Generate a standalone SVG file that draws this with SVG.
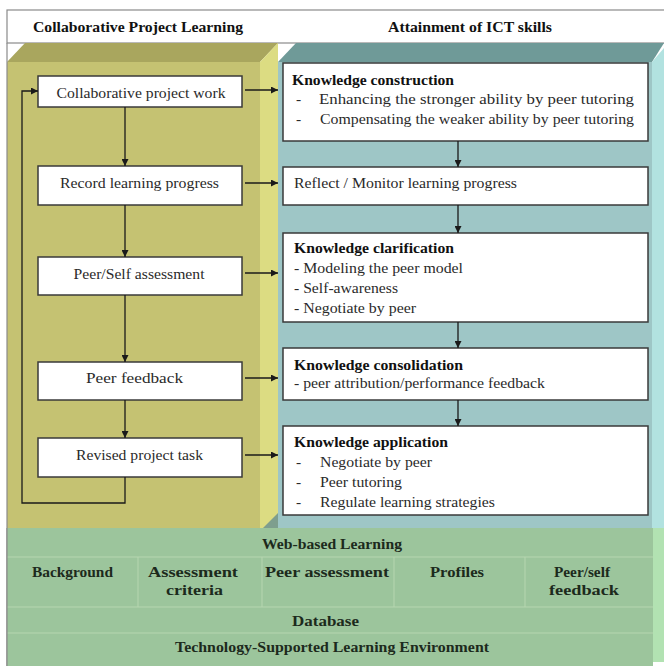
<svg xmlns="http://www.w3.org/2000/svg" width="664" height="666" viewBox="0 0 664 666" font-family="'Liberation Serif', 'DejaVu Serif', serif">
<defs>
<style>
text{font-family:'Liberation Serif','Times New Roman',serif}
.lt{font-size:15.5px;text-anchor:middle;fill:#2a2a2a}
.rt{font-size:15.5px;fill:#2a2a2a}
.rh{font-size:15.5px;font-weight:bold;fill:#111}
.hd{font-size:14.5px;font-weight:bold;fill:#111}
.gt{font-size:14.5px;font-weight:bold;fill:#1c2a1c;text-anchor:middle}
.box{fill:#fff;stroke:#3a3a3a;stroke-width:1.5}
.ln{fill:none;stroke:#1a1a1a;stroke-width:1.3}
.sep{stroke:#b6d6b0;stroke-width:1}
</style>
<marker id="ah" viewBox="0 0 10 10" refX="10" refY="5" markerWidth="7" markerHeight="7" markerUnits="userSpaceOnUse" orient="auto">
<path d="M0,0 L10,5 L0,10 z" fill="#1a1a1a"/>
</marker>
</defs>
<rect x="0" y="0" width="664" height="666" fill="#fff"/>
<g id="header">
<rect x="7" y="10" width="660" height="33" fill="#fff" stroke="#8a8a8a" stroke-width="1.2"/>
<text class="hd" x="33" y="32" textLength="210" lengthAdjust="spacingAndGlyphs">Collaborative Project Learning</text>
<text class="hd" x="388" y="32" textLength="164" lengthAdjust="spacingAndGlyphs">Attainment of ICT skills</text>
</g>
<g id="left-block">
<polygon points="7,62 25,43 278,43 260,62" fill="#a9a65e"/>
<polygon points="260,62 278,43 278,528 260,528" fill="#dcdc82"/>
<rect x="7" y="62" width="253" height="466" fill="#c5c272"/>
<line x1="7" y1="43" x2="7" y2="666" stroke="#8a8a8a" stroke-width="1.2"/>
</g>
<g id="right-block">
<polygon points="278,62 296,43 664,43 652,62" fill="#6f9a98"/>
<polygon points="652,62 664,48 664,528 652,528" fill="#b2e2e0"/>
<rect x="278" y="62" width="374" height="466" fill="#9ec6c6"/>
<polygon points="263,528 278,513 278,528" fill="#7e9e8e"/>
</g>
<g id="platform">
<rect x="7" y="528" width="646" height="138" fill="#9cc59c"/>
<rect x="653" y="528" width="11" height="134" fill="#b2e2b2"/>
<line class="sep" x1="7" y1="557" x2="653" y2="557"/>
<line class="sep" x1="7" y1="607" x2="653" y2="607"/>
<line class="sep" x1="7" y1="633" x2="653" y2="633"/>
<line class="sep" x1="138" y1="557" x2="138" y2="607"/>
<line class="sep" x1="262" y1="557" x2="262" y2="607"/>
<line class="sep" x1="394" y1="557" x2="394" y2="607"/>
<line class="sep" x1="525" y1="557" x2="525" y2="607"/>
<line x1="7" y1="528" x2="7" y2="666" stroke="#8a8a8a" stroke-width="1.2"/>
<text class="gt" x="332" y="549" textLength="140" lengthAdjust="spacingAndGlyphs">Web-based Learning</text>
<text class="gt" x="72.5" y="577" textLength="81" lengthAdjust="spacingAndGlyphs">Background</text>
<text class="gt" x="193" y="577" textLength="90" lengthAdjust="spacingAndGlyphs">Assessment</text>
<text class="gt" x="194.5" y="595" textLength="57" lengthAdjust="spacingAndGlyphs">criteria</text>
<text class="gt" x="327" y="577" textLength="124" lengthAdjust="spacingAndGlyphs">Peer assessment</text>
<text class="gt" x="457" y="577" textLength="54" lengthAdjust="spacingAndGlyphs">Profiles</text>
<text class="gt" x="582" y="577" textLength="56" lengthAdjust="spacingAndGlyphs">Peer/self</text>
<text class="gt" x="584" y="595" textLength="70" lengthAdjust="spacingAndGlyphs">feedback</text>
<text class="gt" x="325.5" y="626" textLength="67" lengthAdjust="spacingAndGlyphs">Database</text>
<text class="gt" x="332" y="652" textLength="314" lengthAdjust="spacingAndGlyphs">Technology-Supported Learning Environment</text>
</g>
<g id="n-collab"><rect class="box" x="38" y="76" width="204" height="31"/><text class="lt" x="141" y="98" textLength="169" lengthAdjust="spacingAndGlyphs">Collaborative project work</text></g>
<g id="n-record"><rect class="box" x="38" y="166" width="204" height="39"/><text class="lt" x="139.5" y="188" textLength="159" lengthAdjust="spacingAndGlyphs">Record learning progress</text></g>
<g id="n-assess"><rect class="box" x="38" y="257" width="204" height="38"/><text class="lt" x="139" y="279" textLength="131" lengthAdjust="spacingAndGlyphs">Peer/Self assessment</text></g>
<g id="n-feedback"><rect class="box" x="38" y="362" width="204" height="38"/><text class="lt" x="134.5" y="383" textLength="97" lengthAdjust="spacingAndGlyphs">Peer feedback</text></g>
<g id="n-revised"><rect class="box" x="38" y="438" width="204" height="39"/><text class="lt" x="139.5" y="460" textLength="127" lengthAdjust="spacingAndGlyphs">Revised project task</text></g>
<g id="k-construction"><rect class="box" x="283" y="63" width="365" height="78"/>
<text class="rh" x="292" y="85" textLength="162" lengthAdjust="spacingAndGlyphs">Knowledge construction</text>
<text class="rt" x="296" y="104">-</text><text class="rt" x="319" y="104" textLength="315" lengthAdjust="spacingAndGlyphs">Enhancing the stronger ability by peer tutoring</text>
<text class="rt" x="296" y="124">-</text><text class="rt" x="320" y="124" textLength="314" lengthAdjust="spacingAndGlyphs">Compensating the weaker ability by peer tutoring</text></g>
<g id="k-reflect"><rect class="box" x="283" y="167" width="365" height="38"/>
<text class="rt" x="294" y="188" textLength="223" lengthAdjust="spacingAndGlyphs">Reflect / Monitor learning progress</text></g>
<g id="k-clarification"><rect class="box" x="283" y="233" width="365" height="89"/>
<text class="rh" x="294" y="253" textLength="160" lengthAdjust="spacingAndGlyphs">Knowledge clarification</text>
<text class="rt" x="294" y="273" textLength="169" lengthAdjust="spacingAndGlyphs">- Modeling the peer model</text>
<text class="rt" x="294" y="293" textLength="104" lengthAdjust="spacingAndGlyphs">- Self-awareness</text>
<text class="rt" x="294" y="313" textLength="122" lengthAdjust="spacingAndGlyphs">- Negotiate by peer</text></g>
<g id="k-consolidation"><rect class="box" x="283" y="348" width="365" height="52"/>
<text class="rh" x="294" y="370" textLength="169" lengthAdjust="spacingAndGlyphs">Knowledge consolidation</text>
<text class="rt" x="294" y="388" textLength="251" lengthAdjust="spacingAndGlyphs">- peer attribution/performance feedback</text></g>
<g id="k-application"><rect class="box" x="283" y="426" width="365" height="89"/>
<text class="rh" x="294" y="447" textLength="154" lengthAdjust="spacingAndGlyphs">Knowledge application</text>
<text class="rt" x="296" y="467">-</text><text class="rt" x="320" y="467" textLength="112" lengthAdjust="spacingAndGlyphs">Negotiate by peer</text>
<text class="rt" x="296" y="487">-</text><text class="rt" x="320" y="487" textLength="82" lengthAdjust="spacingAndGlyphs">Peer tutoring</text>
<text class="rt" x="296" y="507">-</text><text class="rt" x="320" y="507" textLength="175" lengthAdjust="spacingAndGlyphs">Regulate learning strategies</text></g>
<g id="connectors">
<line class="ln" x1="125" y1="107" x2="125" y2="166" marker-end="url(#ah)"/>
<line class="ln" x1="125" y1="205" x2="125" y2="257" marker-end="url(#ah)"/>
<line class="ln" x1="125" y1="295" x2="125" y2="362" marker-end="url(#ah)"/>
<line class="ln" x1="125" y1="400" x2="125" y2="438" marker-end="url(#ah)"/>
<polyline class="ln" points="125,477 125,503 22,503 22,91 38,91" marker-end="url(#ah)"/>
<line class="ln" x1="245" y1="90" x2="278" y2="90" marker-end="url(#ah)"/>
<line class="ln" x1="245" y1="183" x2="278" y2="183" marker-end="url(#ah)"/>
<line class="ln" x1="245" y1="273" x2="278" y2="273" marker-end="url(#ah)"/>
<line class="ln" x1="245" y1="378" x2="278" y2="378" marker-end="url(#ah)"/>
<line class="ln" x1="245" y1="455" x2="278" y2="455" marker-end="url(#ah)"/>
<line class="ln" x1="458" y1="141" x2="458" y2="167" marker-end="url(#ah)"/>
<line class="ln" x1="458" y1="205" x2="458" y2="233" marker-end="url(#ah)"/>
<line class="ln" x1="458" y1="322" x2="458" y2="348" marker-end="url(#ah)"/>
<line class="ln" x1="458" y1="400" x2="458" y2="426" marker-end="url(#ah)"/>
</g>
</svg>
